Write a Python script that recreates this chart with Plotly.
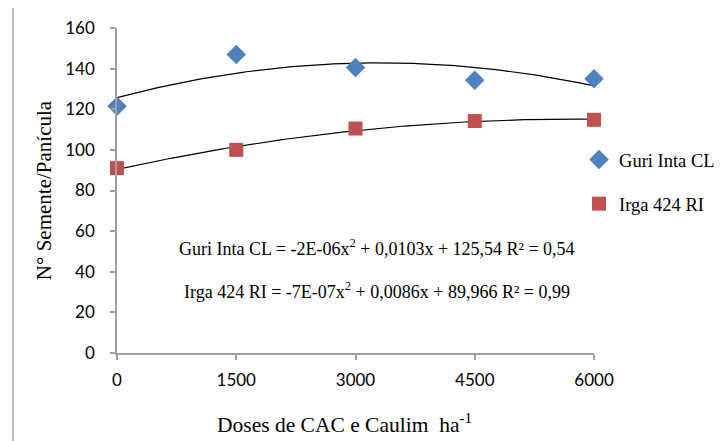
import numpy as np
import plotly.graph_objects as go

doses = [0, 1500, 3000, 4500, 6000]
guri = [121.5, 147.0, 140.5, 134.3, 135.0]
irga = [91.0, 100.0, 110.5, 114.2, 114.8]
x_ticks = [0, 1500, 3000, 4500, 6000]
y_ticks = [0, 20, 40, 60, 80, 100, 120, 140, 160]
eq_guri = "Guri Inta CL = -2E-06x<sup>2</sup> + 0,0103x + 125,54 R² = 0,54"
eq_irga = "Irga 424 RI = -7E-07x<sup>2</sup> + 0,0086x + 89,966 R² = 0,99"
x_title = "Doses de CAC e Caulim  ha<sup>-1</sup>"
y_title = "N° Semente/Panícula"

SERIF = "Liberation Serif, Times New Roman, serif"

xs = np.linspace(0, 6000, 200)
fit_g = np.polyval(np.polyfit(doses, guri, 2), xs)
fit_i = np.polyval(np.polyfit(doses, irga, 2), xs)

fig = go.Figure()
fig.add_trace(go.Scatter(x=xs, y=fit_g, mode="lines", line=dict(color="black", width=1.2),
                         showlegend=False, hoverinfo="skip", cliponaxis=False))
fig.add_trace(go.Scatter(x=xs, y=fit_i, mode="lines", line=dict(color="black", width=1.2),
                         showlegend=False, hoverinfo="skip", cliponaxis=False))
fig.add_trace(go.Scatter(x=doses, y=guri, mode="markers", name="Guri Inta CL",
                         marker=dict(symbol="diamond", size=15, color="#4F81BD"),
                         cliponaxis=False, legendgroup="g"))
fig.add_trace(go.Scatter(x=doses, y=irga, mode="markers", name="Irga 424 RI",
                         marker=dict(symbol="square", size=14, color="#C0504D"),
                         cliponaxis=False, legendgroup="i"))

fig.add_annotation(x=3270, y=51.7, xref="x", yref="y", text=eq_guri, showarrow=False,
                   font=dict(family=SERIF, size=18, color="black"))
fig.add_annotation(x=3270, y=31.0, xref="x", yref="y", text=eq_irga, showarrow=False,
                   font=dict(family=SERIF, size=18, color="black"))

# x-axis title (placed slightly left of the plot centre, as in the original)
fig.add_annotation(x=0.3796, y=-0.2154, xref="paper", yref="paper", text=x_title,
                   showarrow=False, xanchor="center", yanchor="middle",
                   font=dict(family=SERIF, size=21.5, color="black"))

# outer chart frame (left and top edges visible)
fig.add_shape(type="rect", xref="paper", yref="paper",
              x0=(13 - 117) / 477 * 0.7977, y0=-0.6, x1=1.3, y1=(345 - (7 - 8)) / 325,
              line=dict(color="#A6A6A6", width=1.5), fillcolor="rgba(0,0,0,0)", layer="below")

fig.update_layout(
    width=717, height=433,
    margin=dict(l=109, r=10, t=20, b=88, autoexpand=False),
    paper_bgcolor="white", plot_bgcolor="white",
    showlegend=True,
    legend=dict(xref="container", yref="container", x=0.7964, y=0.598,
                xanchor="left", yanchor="middle", tracegroupgap=17,
                traceorder="grouped",
                font=dict(family=SERIF, size=18.5, color="black"),
                bgcolor="rgba(0,0,0,0)", itemwidth=30),
    xaxis=dict(domain=[0, 0.7977], range=[0, 6000], tickvals=x_ticks,
               ticktext=[str(v) for v in x_ticks],
               showgrid=False, zeroline=False, showline=True, linecolor="#A0A0A0", linewidth=1.5,
               ticks="outside", ticklen=5, tickcolor="#A0A0A0", tickwidth=1.5,
               ticklabelstandoff=6,
               tickfont=dict(family="Lato", size=17, color="black")),
    yaxis=dict(range=[0, 160], tickvals=y_ticks,
               showgrid=False, zeroline=False, showline=True, linecolor="#A0A0A0", linewidth=1.5,
               ticks="outside", ticklen=5, tickcolor="#A0A0A0", tickwidth=1.5,
               ticklabelstandoff=12,
               tickfont=dict(family="Lato", size=17, color="black"),
               title=dict(text=y_title, standoff=8,
                          font=dict(family=SERIF, size=21, color="black"))),
)

fig.write_html("out.html")
